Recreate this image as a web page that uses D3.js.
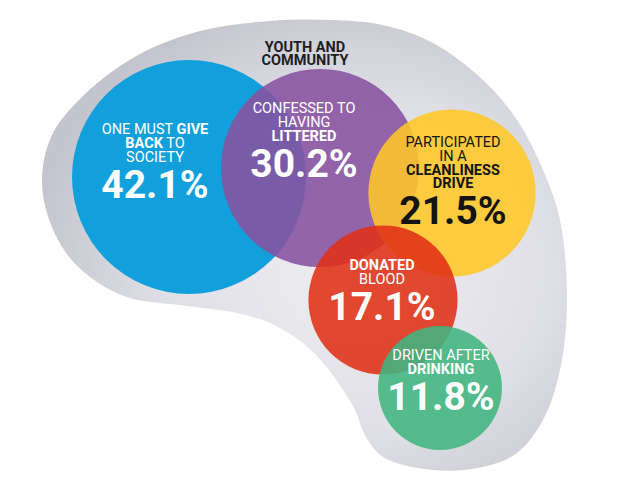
<!DOCTYPE html>
<html>
<head>
<meta charset="utf-8">
<script src="https://cdn.jsdelivr.net/npm/d3@7"></script>
<style>
  html, body { margin: 0; padding: 0; background: #fff; }
  svg { display: block; font-family: Roboto, "Open Sans", sans-serif; }
</style>
</head>
<body>
<div id="chart"></div>
<script>
const WIDTH = 640
const HEIGHT = 480

const TITLE = ['YOUTH AND', 'COMMUNITY']

const categories = ['give', 'littered', 'cleanliness', 'blood', 'drinking']
const shares = [42.1, 30.2, 21.5, 17.1, 11.8]
// each line is a list of [text, bold] runs
const labelLines = [
  [[['ONE MUST ', false], ['GIVE', true]], [['BACK', true], [' TO', false]], [['SOCIETY', false]]],
  [[['CONFESSED TO', false]], [['HAVING', false]], [['LITTERED', true]]],
  [[['PARTICIPATED', false]], [['IN A', false]], [['CLEANLINESS', true]], [['DRIVE', true]]],
  [[['DONATED', true]], [['BLOOD', false]]],
  [[['DRIVEN AFTER', false]], [['DRINKING', true]]]
]

// layout
const bubbleCenters = [[189, 177], [320, 168], [452, 193], [383, 300], [440, 388]]
const labelAnchors = [[155, 134], [304, 113], [453, 147], [382, 270], [441, 360]]
const fills = ['#12a0dc', '#8851a1', '#ffc727', '#e03016', '#40b580']
const inks = ['#ffffff', '#ffffff', '#141414', '#ffffff', '#ffffff']

// grey backdrop outline
const blobOutline = [
  [333, 20], [383, 25], [433, 43], [483, 80], [517, 120], [543, 170], [560, 220],
  [567, 303], [560, 370], [543, 420], [517, 453], [483, 467], [433, 470], [383, 457],
  [365, 435], [355, 410], [343, 390], [325, 365], [303, 343], [270, 323], [237, 313],
  [187, 306], [130, 298], [97, 282], [70, 258], [50, 222], [42, 180], [52, 135],
  [84, 95], [138, 55], [200, 31], [270, 21]
]

const LINE_STEP = 13.8
const NUMBER_GAP = 36

const svg = d3.select('#chart').append('svg')
    .attr('width', WIDTH)
    .attr('height', HEIGHT)

const defs = svg.append('defs')
const grad = defs.append('radialGradient')
    .attr('id', 'blobGrad')
    .attr('cx', '0.6').attr('cy', '0.55').attr('r', '0.62')
grad.append('stop').attr('offset', '0').attr('stop-color', '#eeeef2')
grad.append('stop').attr('offset', '0.6').attr('stop-color', '#dfdfe6')
grad.append('stop').attr('offset', '1').attr('stop-color', '#c4c4ce')

const blobLine = d3.line().curve(d3.curveCatmullRomClosed.alpha(0.5))

svg.append('path')
    .attr('d', blobLine(blobOutline))
    .attr('fill', 'url(#blobGrad)')

const r = d3.scaleSqrt()
    .domain([0, d3.max(shares)])
    .range([0, 117])

const data = categories.map((key, i) => ({
  key: key,
  value: shares[i],
  lines: labelLines[i],
  center: bubbleCenters[i],
  anchor: labelAnchors[i],
  fill: fills[i],
  ink: inks[i]
}))

svg.append('g').selectAll('circle').data(data)
  .enter().append('circle')
    .attr('cx', d => d.center[0])
    .attr('cy', d => d.center[1])
    .attr('r', d => r(d.value))
    .attr('fill', d => d.fill)
    .attr('fill-opacity', (d, i) => i === 0 ? 1 : 0.88)

svg.append('text')
    .attr('text-anchor', 'middle')
    .attr('fill', '#1e1e1e')
    .style('font-weight', 700)
    .style('font-size', '14.5px')
  .selectAll('tspan').data(TITLE)
  .enter().append('tspan')
    .attr('x', 305)
    .attr('y', (d, i) => 52 + i * 13)
    .text(d => d)

const labels = svg.append('g').selectAll('g').data(data)
  .enter().append('g')
    .attr('fill', d => d.ink)
    .attr('text-anchor', 'middle')

labels.each(function(d) {
  const g = d3.select(this)
  d.lines.forEach((runs, li) => {
    const t = g.append('text')
        .attr('x', d.anchor[0])
        .attr('y', d.anchor[1] + li * LINE_STEP)
        .style('font-size', '14.5px')
    runs.forEach(run => {
      t.append('tspan')
          .style('font-weight', run[1] ? 700 : 400)
          .text(run[0])
    })
  })
  g.append('text')
      .attr('x', d.anchor[0])
      .attr('y', d.anchor[1] + (d.lines.length - 1) * LINE_STEP + NUMBER_GAP)
      .style('font-size', '39px')
      .style('font-weight', 700)
      .text(d3.format('.1f')(d.value) + '%')
})
</script>
</body>
</html>
